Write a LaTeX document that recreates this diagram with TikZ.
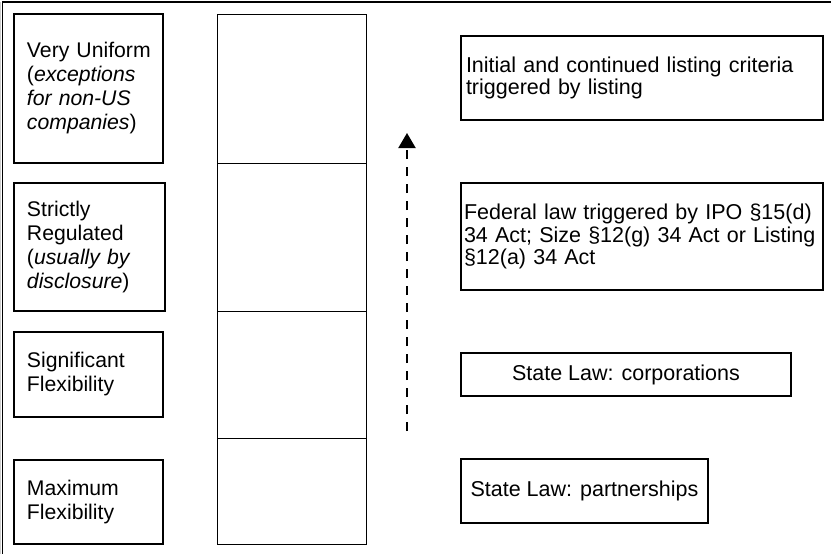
\documentclass[tikz,border=0pt]{standalone}
\usepackage{fontspec}
\setmainfont{Liberation Sans}
\usetikzlibrary{arrows.meta}
\begin{document}
\begin{tikzpicture}[x=1pt,y=-1pt,
  leftbox/.style={draw,line width=1.5pt,inner xsep=13pt,inner ysep=0pt,align=left,
    font=\fontsize{21.2}{24}\selectfont},
  cell/.style={draw,line width=1pt,minimum width=149pt,inner sep=0pt},
  rightbox/.style={draw,line width=1.5pt,inner xsep=5pt,inner ysep=0pt,
    font=\fontsize{21.5}{22.5}\selectfont},
  flow/.style={line width=2pt,dash pattern=on 9pt off 8pt,
    -{Triangle[width=17pt,length=15pt]}}]
\useasboundingbox (0,0) rectangle (831,554);

% open frame: top and left edges
\draw[gray!40,line width=0.8pt] (0.4,2) -- (0.4,554);
\draw[line width=2pt] (2,2) -- (831,2);
\draw[line width=1.5pt] (2.5,2) -- (2.5,554);

% degree-of-regulation labels
\node[leftbox,minimum width=149pt,minimum height=149pt,text width=123pt] (vu) at (88.5,88.5)
  {\mbox{Very Uniform}\\(\textit{exceptions}\\\textit{for non-US}\\\textit{companies})};
\node[leftbox,minimum width=151pt,minimum height=128pt,text width=125pt] (sr) at (89.5,247)
  {Strictly\\Regulated\\(\textit{usually by}\\\textit{disclosure})};
\node[leftbox,minimum width=149pt,minimum height=85pt,text width=123pt] (sf) at (88.5,374.5)
  {Significant\\Flexibility};
\node[leftbox,minimum width=149pt,minimum height=84pt,text width=123pt] (mf) at (88.5,502)
  {Maximum\\Flexibility};

% stacked column of empty cells
\node[cell,minimum height=149pt] (c1) at (291.5,88.5) {};
\node[cell,minimum height=148pt] (c2) at (291.5,237) {};
\node[cell,minimum height=127pt] (c3) at (291.5,374.5) {};
\node[cell,minimum height=106pt] (c4) at (291.5,491) {};

% sources of regulation
\node[rightbox,minimum width=362pt,minimum height=84pt,text width=352pt,align=left] (lc) at (642,78)
  {Initial and continued listing criteria\\triggered by listing};
\node[rightbox,minimum width=362pt,minimum height=107pt,text width=356pt,align=left,inner xsep=3pt] (fl) at (642,236.5)
  {Federal law triggered by IPO §15(d)\\34 Act; Size §12(g) 34 Act or Listing\\§12(a) 34 Act};
\node[rightbox,minimum width=330pt,minimum height=43pt,align=center] (sc) at (626,374.5)
  {State Law: corporations};
\node[rightbox,minimum width=247pt,minimum height=64pt,align=center] (sp) at (584.5,491)
  {State Law: partnerships};

% direction of increasing regulation
\coordinate (ab) at (407,431);
\coordinate (at) at (407,133);
\draw[flow] (ab) -- (at);
\end{tikzpicture}
\end{document}
